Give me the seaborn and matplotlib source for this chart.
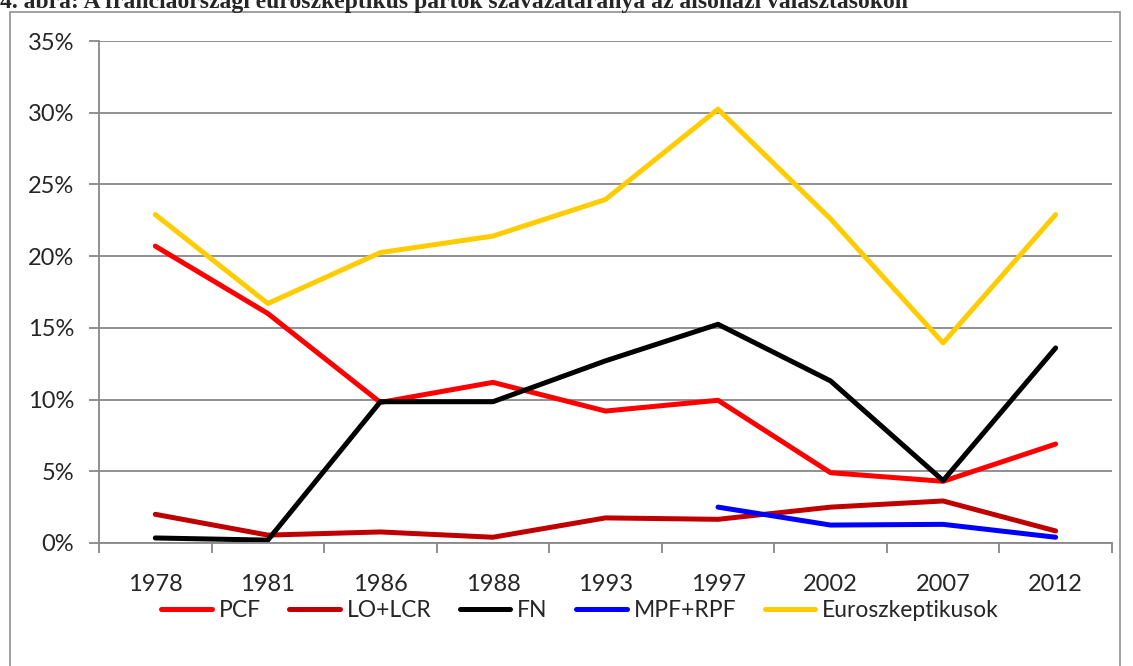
import numpy as np
import pandas as pd
import matplotlib
matplotlib.use("Agg")
import matplotlib.pyplot as plt
import seaborn as sns
from matplotlib.patches import Rectangle
from matplotlib.ticker import PercentFormatter

# adatok (leolvasva az ábráról, %)
years = ["1978", "1981", "1986", "1988", "1993", "1997", "2002", "2007", "2012"]
pcf    = [20.7, 16.0, 9.8, 11.2, 9.2, 9.95, 4.9, 4.3, 6.9]
lo_lcr = [2.0, 0.55, 0.77, 0.4, 1.75, 1.65, 2.5, 2.93, 0.84]
fn     = [0.35, 0.2, 9.85, 9.85, 12.7, 15.25, 11.3, 4.35, 13.6]
mpf    = [np.nan, np.nan, np.nan, np.nan, np.nan, 2.5, 1.25, 1.3, 0.4]
euro   = [22.9, 16.7, 20.25, 21.4, 23.95, 30.25, 22.6, 13.95, 22.9]

series = ["PCF", "LO+LCR", "FN", "MPF+RPF", "Euroszkeptikusok"]
colors = ["#FF0000", "#C00000", "#000000", "#0000FF", "#FFCC00"]

rows = []
for name, vals in zip(series, [pcf, lo_lcr, fn, mpf, euro]):
    for i, v in enumerate(vals):
        rows.append({"pos": i, "ev": years[i], "part": name, "arany": v})
df = pd.DataFrame(rows).dropna()

sns.set_style("white")
plt.rcParams["font.family"] = ["Lato", "DejaVu Sans"]

fig = plt.figure(figsize=(11.33, 6.66), dpi=100)
ax = fig.add_axes([0.0874, 0.1847, 0.894, 0.7537])

sns.lineplot(data=df, x="pos", y="arany", hue="part", hue_order=series,
             palette=colors, linewidth=3.6, ax=ax, sort=False)

ax.set_xlim(-0.5, len(years) - 0.5)
ax.set_ylim(0, 35)
ax.set_yticks(range(0, 36, 5))
ax.yaxis.set_major_formatter(PercentFormatter(decimals=0))
ax.set_xticks(range(len(years)))
ax.set_xticklabels(years)
ax.set_xticks(np.arange(-0.5, len(years), 1), minor=True)
ax.tick_params(axis="x", which="major", bottom=True, length=0, labelsize=17, pad=22)
ax.tick_params(axis="x", which="minor", bottom=True, length=7, width=1.3, color="#888888", direction="out")
ax.tick_params(axis="y", left=True, length=7, width=1.3, color="#888888", direction="out", labelsize=17, pad=11)
ax.grid(axis="y", color="#888888", linewidth=1.3)
ax.set_axisbelow(True)
for s in ["top", "right"]:
    ax.spines[s].set_visible(False)
for s in ["left", "bottom"]:
    ax.spines[s].set_color("#888888")
    ax.spines[s].set_linewidth(1.3)
ax.set_xlabel("")
ax.set_ylabel("")

handles, labels = ax.get_legend_handles_labels()
ax.legend(handles, labels, loc="center", bbox_to_anchor=(0.512, 0.084),
          bbox_transform=fig.transFigure, ncol=5, frameon=False, fontsize=16.5,
          handlelength=2.2, handletextpad=0.3, columnspacing=1.25)

# keret
fig.patches.append(Rectangle((10 / 1133, -0.01), 1110 / 1133, 1 - 12 / 666 + 0.01,
                             transform=fig.transFigure, fill=False,
                             edgecolor="#999999", linewidth=1.3))

fig.text(0.0, 1.0 - 8 / 666, "4. ábra: A franciaországi euroszkeptikus pártok szavazataránya az alsóházi választásokon",
         fontsize=17, fontweight="bold", family="Liberation Serif", ha="left", va="baseline")

fig.savefig("out.png", dpi=100)
